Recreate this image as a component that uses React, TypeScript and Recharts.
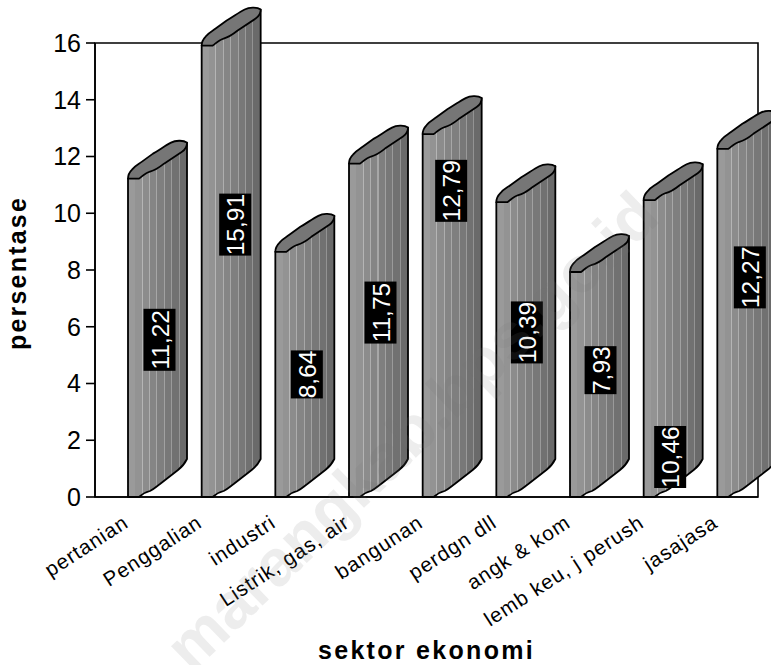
import React from "react";
import { BarChart, Bar, XAxis, YAxis, LabelList, Label, ReferenceArea } from "recharts";

const sectors = [
  "pertanian",
  "Penggalian",
  "industri",
  "Listrik, gas, air",
  "bangunan",
  "perdgn dll",
  "angk & kom",
  "lemb keu, j perush",
  "jasajasa",
];
const shares = [11.22, 15.91, 8.64, 11.75, 12.79, 10.39, 7.93, 10.46, 12.27];
const valueTicks = [0, 2, 4, 6, 8, 10, 12, 14, 16];
// Height on the value axis at which each badge is centred.
const badgeLevels = [5.54, 9.6, 4.32, 6.5, 10.79, 5.8, 4.47, 1.41, 7.74];
const badgeNudges = [2, 4, 2, 2, -1, 1, 1, -3, 3];

const rows = sectors.map((sector, i) => ({ sector, share: shares[i] }));

const FONT = "'Liberation Sans', Arial, sans-serif";
const DEPTH_SHIFT = 26;

// Hard-stopped gradient: darkening facets separated by thin lighter ribs.
function ribStops() {
  const stops: React.ReactElement[] = [];
  const facets = 8;
  let key = 0;
  for (let i = 0; i < facets; i++) {
    const start = (i / facets) * 100;
    const end = ((i + 1) / facets) * 100;
    const g = Math.round(0x9a - (i / (facets - 1)) * 0x30);
    const body = `rgb(${g},${g},${g})`;
    const rib = `rgb(${g + 34},${g + 34},${g + 34})`;
    const ribAt = end - 1.7;
    stops.push(<stop key={key++} offset={`${start}%`} stopColor={body} />);
    stops.push(<stop key={key++} offset={`${ribAt}%`} stopColor={body} />);
    if (i > 0 && i < facets - 1) {
      stops.push(<stop key={key++} offset={`${ribAt}%`} stopColor={rib} />);
      stops.push(<stop key={key++} offset={`${end}%`} stopColor={rib} />);
    } else {
      stops.push(<stop key={key++} offset={`${end}%`} stopColor={body} />);
    }
  }
  return stops;
}

function SlantedColumn(props: any) {
  const { x, y, width, height } = props;
  const left = x + DEPTH_SHIFT;
  const w = width;
  const k = w / 59;
  const base = y + height;
  const px = (n: number) => left + n * k;
  const body = [
    `M${left},${y}`,
    `L${left},${base}`,
    `L${px(11)},${base}`,
    `C${px(15)},${base - 4} ${px(18)},${base - 5} ${px(22)},${base - 6}`,
    `C${px(26)},${base - 8} ${px(29)},${base - 11} ${px(32)},${base - 13}`,
    `L${px(50)},${base - 27}`,
    `C${px(54)},${base - 30} ${px(57)},${base - 34} ${px(59)},${base - 38}`,
    `L${px(59)},${y - 36}`,
    `Z`,
  ].join(" ");
  const cap = [
    `M${left},${y}`,
    `C${px(0)},${y - 4} ${px(2)},${y - 7} ${px(4)},${y - 9}`,
    `C${px(7)},${y - 13} ${px(10)},${y - 14} ${px(14)},${y - 17}`,
    `L${px(25)},${y - 25}`,
    `C${px(32)},${y - 29} ${px(37)},${y - 33} ${px(43)},${y - 36}`,
    `C${px(47)},${y - 38} ${px(55)},${y - 39} ${px(59)},${y - 36}`,
    `C${px(59)},${y - 33} ${px(57)},${y - 29} ${px(54)},${y - 27}`,
    `L${px(36)},${y - 15}`,
    `C${px(31)},${y - 11} ${px(26)},${y - 8} ${px(22)},${y - 7}`,
    `C${px(18)},${y - 6} ${px(15)},${y - 3} ${px(11)},${y}`,
    `Z`,
  ].join(" ");
  return (
    <g>
      <path d={body} fill="url(#columnRibs)" stroke="#000" strokeWidth={1.8} strokeLinejoin="round" />
      <path d={cap} fill="#767676" stroke="#000" strokeWidth={1.8} strokeLinejoin="round" />
    </g>
  );
}

function ValueBadge(props: any) {
  const { x, y, width, height, index, value } = props;
  const cx = x + DEPTH_SHIFT + width / 2 + badgeNudges[index];
  const cy = y + height - (badgeLevels[index] / value) * height;
  const text = value.toFixed(2).replace(".", ",");
  const boxH = text.length === 5 ? 62 : 48;
  return (
    <g>
      <rect x={cx - 16} y={cy - boxH / 2} width={32} height={boxH} fill="#000" />
      <text
        transform={`translate(${cx + 9},${cy}) rotate(-90)`}
        textAnchor="middle"
        fontFamily={FONT}
        fontSize={24.5}
        fill="#fff"
      >
        {text}
      </text>
    </g>
  );
}

function SectorTick(props: any) {
  const { x, y, payload } = props;
  return (
    <text
      transform={`translate(${x - 2},${y}) rotate(-33)`}
      textAnchor="end"
      fontFamily={FONT}
      fontSize={20.5}
      letterSpacing={1}
      fill="#000"
    >
      {payload.value}
    </text>
  );
}

export default function App() {
  return (
    <div
      style={{
        position: "absolute",
        left: 0,
        top: 0,
        width: 771,
        height: 665,
        overflow: "hidden",
        background: "#fff",
      }}
    >
      <BarChart
        width={771}
        height={665}
        data={rows}
        margin={{ top: 43, right: 13, bottom: 0, left: 0 }}
        barSize={59}
      >
        <defs>
          <linearGradient id="columnRibs" x1="0" y1="0" x2="1" y2="0">
            {ribStops()}
          </linearGradient>
        </defs>
        <ReferenceArea y1={0} y2={16} fill="#fff" fillOpacity={0} stroke="#000" strokeWidth={1.6} />
        <XAxis
          dataKey="sector"
          interval={0}
          height={168}
          tick={<SectorTick />}
          tickLine={false}
          tickMargin={23}
          axisLine={{ stroke: "#000", strokeWidth: 1.6 }}
        >
          <Label
            value="sektor ekonomi"
            position="insideBottom"
            offset={6}
            style={{ fontFamily: FONT, fontSize: 25, fontWeight: 700, letterSpacing: 2.3, fill: "#000" }}
          />
        </XAxis>
        <YAxis
          width={95}
          domain={[0, 16]}
          ticks={valueTicks}
          interval={0}
          tickSize={9}
          tickMargin={5}
          tick={{ fontFamily: FONT, fontSize: 25, fill: "#000" }}
          tickLine={{ stroke: "#000", strokeWidth: 1.6 }}
          axisLine={{ stroke: "#000", strokeWidth: 1.6 }}
        >
          <Label
            value="persentase"
            angle={-90}
            position="insideLeft"
            offset={17}
            dy={3}
            style={{ fontFamily: FONT, fontSize: 25, fontWeight: 700, letterSpacing: 2.2, fill: "#000", textAnchor: "middle" }}
          />
        </YAxis>
        <Bar dataKey="share" isAnimationActive={false} shape={<SlantedColumn />}>
          <LabelList dataKey="share" content={<ValueBadge />} />
        </Bar>
      </BarChart>
      <svg
        width={771}
        height={665}
        style={{ position: "absolute", left: 0, top: 0, pointerEvents: "none" }}
      >
        <text
          transform="translate(662,220) rotate(-44)"
          textAnchor="end"
          fontFamily={FONT}
          fontWeight={700}
          fontSize={65}
          fill="#777"
          fillOpacity={0.13}
        >
          marangkab.bps.go.id
        </text>
      </svg>
    </div>
  );
}
